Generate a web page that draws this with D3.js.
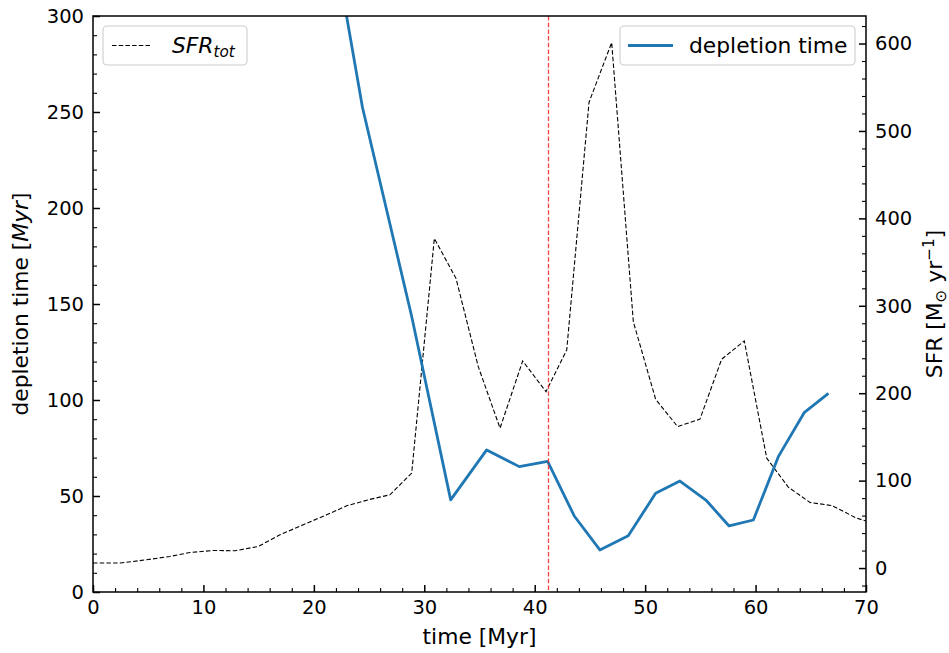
<!DOCTYPE html>
<html>
<head>
<meta charset="utf-8">
<script src="https://cdn.jsdelivr.net/npm/d3@7"></script>
<style>
  html, body { margin: 0; padding: 0; background: #fff; }
  svg { display: block; }
  text { font-family: "DejaVu Sans", sans-serif; fill: #000; }
</style>
</head>
<body>
<svg id="chart" width="949" height="653"></svg>
<script>
// Star formation rate (right axis), sampled every ~2 Myr
const sfrTime = [0, 2.45, 4.86, 6.97, 8.78, 10.9, 12.86, 14.97, 16.93, 19.04, 21.16, 22.97, 24.93, 26.89, 28.86,
  30.91, 32.87, 34.89, 36.86, 38.91, 41.02, 42.9, 44.92, 46.97, 48.93, 50.95, 52.94, 54.96, 56.93, 58.98,
  61.01, 62.96, 64.93, 66.89, 69.15, 71];
const sfrValue = [5.7, 5.7, 9.5, 13.3, 17.8, 20.1, 19.8, 24.7, 38.1, 49.5, 60.9, 71.2, 78.1, 83.8, 108.6,
  377, 331.4, 230.4, 160, 236.9, 201.8, 249.5, 532.9, 601.1, 281.8, 193.1, 161.8, 170.3, 238.9, 259.8,
  125.7, 92.6, 75, 71.5, 57.1, 50];

// Gas depletion time (left axis)
const depTime = [21.9, 24.4, 28.86, 32.39, 35.65, 38.6, 41.17, 43.58, 45.9, 48.47, 50.95, 53.15, 55.5, 57.6,
  59.8, 62.06, 64.4, 66.5];
const depValue = [335, 252.5, 143.5, 48, 74, 65.3, 68, 39.6, 21.9, 29.3, 51.4, 57.8, 47.9, 34.4,
  37.5, 70.5, 93.4, 103];

// Marker time (vertical dashed line)
const markerTime = [41.17];

// Tick values
const xMajor = [0, 10, 20, 30, 40, 50, 60, 70];
const xMinor = d3.range(0, 70.01, 2).filter(v => v % 10 !== 0);
const yLMajor = [0, 50, 100, 150, 200, 250, 300];
const yLMinor = d3.range(0, 300.01, 10).filter(v => v % 50 !== 0);
const yRMajor = [0, 100, 200, 300, 400, 500, 600];
const yRMinor = d3.range(-20, 631, 20).filter(v => v % 100 !== 0);

const svg = d3.select("#chart");
const L = 93, R = 866, T = 16, B = 592;
const FS = 19.5;   // tick labels
const LFS = 21.8;  // axis titles and legend

const x = d3.scaleLinear().domain([0, 70]).range([L, R]);
const yL = d3.scaleLinear().domain([0, 300]).range([B, T]);
const yR = d3.scaleLinear().domain([-27.4, 631.5]).range([B, T]);

svg.append("defs").append("clipPath").attr("id", "plotclip")
  .append("rect").attr("x", L).attr("y", T).attr("width", R - L).attr("height", B - T);

const plot = svg.append("g").attr("clip-path", "url(#plotclip)");

// SFR dashed line
plot.append("path")
  .datum(sfrTime.map((t, i) => [t, sfrValue[i]]))
  .attr("fill", "none").attr("stroke", "#000").attr("stroke-width", 1.1)
  .attr("stroke-dasharray", "4.5,2.2")
  .attr("d", d3.line().x(d => x(d[0])).y(d => yR(d[1])));

// Depletion time line
plot.append("path")
  .datum(depTime.map((t, i) => [t, depValue[i]]))
  .attr("fill", "none").attr("stroke", "#1f77b4").attr("stroke-width", 2.8)
  .attr("stroke-linejoin", "round").attr("stroke-linecap", "square")
  .attr("d", d3.line().x(d => x(d[0])).y(d => yL(d[1])));

// Vertical marker
plot.selectAll("line.marker").data(markerTime).enter().append("line")
  .attr("class", "marker")
  .attr("x1", d => Math.round(x(d)) + 0.5).attr("x2", d => Math.round(x(d)) + 0.5).attr("y1", T).attr("y2", B)
  .attr("stroke", "#ff2020").attr("stroke-opacity", 0.85).attr("stroke-width", 1.3)
  .attr("stroke-dasharray", "4.5,2.2");

// Axes
function styleAxis(g) {
  g.select(".domain").remove();
  g.selectAll(".tick line").attr("stroke", "#000");
  g.selectAll(".tick text").style("font-size", FS + "px").style("font-family", "DejaVu Sans");
}

const gxMinor = svg.append("g").attr("transform", `translate(0,${B})`)
  .call(d3.axisBottom(x).tickValues(xMinor).tickSize(-4).tickFormat(""));
gxMinor.call(styleAxis); gxMinor.selectAll(".tick line").attr("stroke-width", 1.1);
const gx = svg.append("g").attr("transform", `translate(0,${B})`)
  .call(d3.axisBottom(x).tickValues(xMajor).tickSize(-7).tickPadding(8).tickFormat(d3.format("d")));
gx.call(styleAxis); gx.selectAll(".tick line").attr("stroke-width", 1.5);

const gyLMinor = svg.append("g").attr("transform", `translate(${L},0)`)
  .call(d3.axisLeft(yL).tickValues(yLMinor).tickSize(-4).tickFormat(""));
gyLMinor.call(styleAxis); gyLMinor.selectAll(".tick line").attr("stroke-width", 1.1);
const gyL = svg.append("g").attr("transform", `translate(${L},0)`)
  .call(d3.axisLeft(yL).tickValues(yLMajor).tickSize(-7).tickPadding(9).tickFormat(d3.format("d")));
gyL.call(styleAxis); gyL.selectAll(".tick line").attr("stroke-width", 1.5);

const gyRMinor = svg.append("g").attr("transform", `translate(${R},0)`)
  .call(d3.axisRight(yR).tickValues(yRMinor).tickSize(-4).tickFormat(""));
gyRMinor.call(styleAxis); gyRMinor.selectAll(".tick line").attr("stroke-width", 1.1);
const gyR = svg.append("g").attr("transform", `translate(${R},0)`)
  .call(d3.axisRight(yR).tickValues(yRMajor).tickSize(-7).tickPadding(9).tickFormat(d3.format("d")));
gyR.call(styleAxis); gyR.selectAll(".tick line").attr("stroke-width", 1.5);

// Frame
svg.append("rect").attr("x", L).attr("y", T).attr("width", R - L).attr("height", B - T)
  .attr("fill", "none").attr("stroke", "#000").attr("stroke-width", 1.5);

// Axis titles
svg.append("text").attr("x", (L + R) / 2).attr("y", 644).attr("text-anchor", "middle")
  .style("font-size", LFS + "px").text("time [Myr]");

const ylab = svg.append("text").attr("transform", `translate(28,${(T + B) / 2}) rotate(-90)`)
  .attr("text-anchor", "middle").style("font-size", LFS + "px");
ylab.append("tspan").text("depletion time [");
ylab.append("tspan").style("font-style", "italic").text("Myr");
ylab.append("tspan").text("]");

const yrlab = svg.append("text").attr("transform", `translate(942,${(T + B) / 2}) rotate(-90)`)
  .attr("text-anchor", "middle").style("font-size", LFS + "px");
yrlab.append("tspan").text("SFR [M");
yrlab.append("tspan").attr("dy", 4).style("font-size", (LFS * 0.7) + "px").text("\u2299");
yrlab.append("tspan").attr("dy", -4).text(" yr");
yrlab.append("tspan").attr("dy", -8).style("font-size", (LFS * 0.7) + "px").text("\u22121");
yrlab.append("tspan").attr("dy", 8).text("]");

// Legends
function legendBox(x0, y0, w, h) {
  svg.append("rect").attr("x", x0).attr("y", y0).attr("width", w).attr("height", h)
    .attr("rx", 4).attr("fill", "#fff").attr("fill-opacity", 0.8)
    .attr("stroke", "#cccccc").attr("stroke-width", 1.1);
}

legendBox(103, 26, 144, 39);
svg.append("line").attr("x1", 112).attr("x2", 152).attr("y1", 45.5).attr("y2", 45.5)
  .attr("stroke", "#000").attr("stroke-width", 1.1).attr("stroke-dasharray", "4.5,2.2");
const sfrLeg = svg.append("text").attr("x", 172).attr("y", 53).style("font-size", LFS + "px")
  .style("font-style", "italic");
sfrLeg.append("tspan").text("SFR");
sfrLeg.append("tspan").attr("dy", 4).style("font-size", (LFS * 0.7) + "px").text("tot");

legendBox(620, 26, 235, 39);
svg.append("line").attr("x1", 628).attr("x2", 673).attr("y1", 45.5).attr("y2", 45.5)
  .attr("stroke", "#1f77b4").attr("stroke-width", 2.8);
svg.append("text").attr("x", 689).attr("y", 53).style("font-size", LFS + "px").text("depletion time");
</script>
</body>
</html>
